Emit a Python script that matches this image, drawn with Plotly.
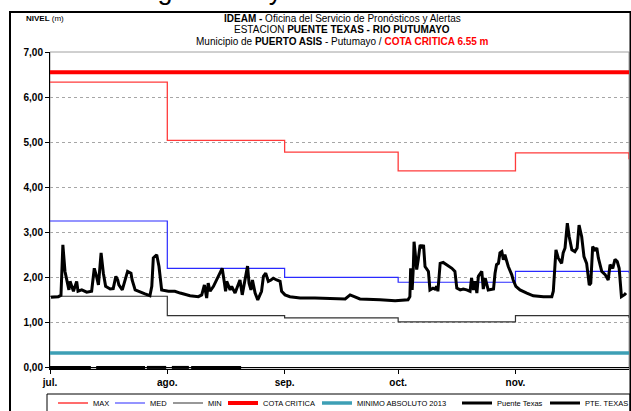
import pandas as pd
import plotly.graph_objects as go

# --- data -------------------------------------------------------------
YEAR_START = "2014-07-01"
MONTH_STARTS = ["2014-07-01", "2014-08-01", "2014-09-01", "2014-10-01", "2014-11-01", "2014-12-01"]
MONTH_LABELS = ["jul.", "ago.", "sep.", "oct.", "nov."]

# monthly reference levels (m), one value per month start (last = closing value)
MAX_LEVEL = [6.33, 5.04, 4.78, 4.36, 4.76, 4.62]
MED_LEVEL = [3.25, 2.20, 2.00, 1.89, 2.13, 2.10]
MIN_LEVEL = [1.58, 1.15, 1.10, 1.01, 1.15, 1.10]

COTA_CRITICA = 6.55
MINIMO_2013 = 0.32

# observed level at Puente Texas: days since 1 July and level (m)
PTE_DAYS = [0.26, 2.2, 2.9, 3.4, 3.96, 5.0, 5.3, 6.2, 7.05, 7.4, 8.4, 9.7, 11.0, 11.7, 12.3, 12.8,
            13.5, 14.1, 14.7, 15.9, 16.7, 17.4, 17.9, 18.2, 19.1, 20.5, 21.4, 21.7, 22.5, 23.8,
            25.1, 26.4, 26.9, 27.3, 28.2, 28.8, 29.5, 31.3, 33.0, 34.4, 37.0, 39.2, 40.1, 40.8,
            41.4, 41.8, 42.3, 43.2, 43.6, 45.5, 46.1, 46.4, 46.7, 47.6, 48.0, 48.9, 50.2, 50.8,
            52.2, 52.6, 53.1, 53.5, 54.2, 54.9, 55.9, 56.4, 57.0, 57.7, 58.4, 59.0, 59.9, 60.8,
            61.2, 62.1, 63.4, 66.1, 70.0, 78.0, 79.3, 81.9, 87.2, 91.2, 94.6, 95.1, 95.3, 95.7,
            96.0, 96.2, 96.5, 96.9, 97.3, 97.8, 98.3, 98.7, 99.1, 100.0, 100.4, 101.2, 101.7,
            102.2, 102.5, 103.1, 103.9, 104.8, 105.7, 106.2, 107.0, 107.5, 108.4, 109.2, 110.1,
            111.0, 111.4, 111.9, 112.3, 112.8, 113.2, 114.1, 114.5, 115.0, 115.8, 117.2, 117.6,
            118.0, 118.5, 118.9, 119.4, 119.8, 120.2, 121.1, 122.0, 122.4, 123.1, 124.2, 126.0,
            127.7, 130.4, 132.6, 133.0, 133.7, 134.3, 135.2, 135.6, 136.1, 136.7, 137.2, 137.9,
            138.7, 139.3, 139.8, 140.5, 141.1, 141.8, 142.5, 142.9, 143.4, 144.0, 144.5, 144.9,
            145.8, 146.7, 147.5, 148.0, 148.7, 149.3, 149.9, 150.4, 150.8, 151.0, 151.9, 152.2]
PTE_LEVEL = [1.56, 1.57, 1.60, 2.72, 2.13, 1.72, 1.91, 1.69, 1.91, 1.69, 1.72, 1.67, 1.69, 2.20, 2.02, 1.83,
             2.54, 2.09, 1.80, 1.74, 1.75, 2.02, 1.94, 1.83, 1.72, 2.13, 2.09, 1.94, 1.72, 1.67,
             1.63, 1.59, 1.80, 2.43, 2.50, 2.24, 1.72, 1.69, 1.69, 1.65, 1.59, 1.57, 1.61, 1.83,
             1.54, 1.87, 1.69, 1.80, 1.87, 2.20, 1.87, 1.69, 1.91, 1.72, 1.80, 1.65, 1.94, 1.61,
             2.25, 1.87, 1.72, 1.94, 1.65, 1.50, 1.69, 2.02, 2.09, 1.91, 1.94, 1.98, 1.94, 1.91,
             1.69, 1.61, 1.57, 1.54, 1.54, 1.52, 1.61, 1.52, 1.50, 1.48, 1.50, 1.57, 2.20, 1.72,
             2.20, 2.79, 2.54, 2.17, 2.39, 2.72, 2.65, 2.72, 2.24, 2.13, 1.72, 1.76, 1.74,
             1.80, 1.69, 2.31, 2.33, 2.28, 2.24, 2.20, 2.13, 1.76, 1.72, 1.74, 1.72,
             1.69, 1.98, 1.72, 1.91, 1.65, 2.02, 2.13, 1.74, 1.98, 1.72, 1.74, 2.09,
             2.28, 2.31, 2.54, 2.57, 2.39, 2.50, 2.24, 2.06, 1.94, 1.80, 1.72, 1.65,
             1.59, 1.57, 1.57, 1.69, 2.61, 2.43, 2.31, 2.54, 2.65, 3.20, 2.90, 2.61,
             2.57, 2.65, 3.16, 2.90, 2.46, 2.31, 1.83, 1.87, 2.68, 2.61, 2.65, 2.43,
             2.13, 2.06, 1.94, 2.28, 2.20, 2.40, 2.35, 2.20, 1.87, 1.57, 1.62, 1.65]

# second gauge record: zero readings (None = no reading)
PT2_DAYS = [0.0, 10.8, 11.5, 12.2, 25.1, 25.4, 25.6, 30.7, 31.5, 32.2, 36.7, 37.0, 37.3, 50.5]
PT2_LEVEL = [0, 0, None, 0, 0, None, 0, 0, None, 0, 0, None, 0, 0]

# --- figure -----------------------------------------------------------
start = pd.Timestamp(YEAR_START)
pte_x = start + pd.to_timedelta(PTE_DAYS, unit="D")
pt2_x = start + pd.to_timedelta(PT2_DAYS, unit="D")
x_span = [MONTH_STARTS[0], MONTH_STARTS[-1]]

SANS = "Liberation Sans, Arial, sans-serif"


def px_x(px):
    """Convert a pixel column of the page to paper units of the plot area."""
    return (px - 50) / 579


def px_y(py):
    """Convert a pixel row of the page to paper units of the plot area."""
    return (369 - py) / 317


fig = go.Figure()

# each series gets its own one-entry legend so the row can be laid out tightly
fig.add_trace(go.Scatter(x=x_span, y=[COTA_CRITICA] * 2, mode="lines", name="COTA CRITICA",
                         line=dict(color="#ff0000", width=4), legend="legend4"))
fig.add_trace(go.Scatter(x=x_span, y=[MINIMO_2013] * 2, mode="lines", name="MINIMO ABSOLUTO 2013",
                         line=dict(color="#3d9fb5", width=3.5), legend="legend5"))
fig.add_trace(go.Scatter(x=MONTH_STARTS, y=MAX_LEVEL, mode="lines", name="MAX",
                         line=dict(color="#ff3b3b", width=1.3, shape="hv"), legend="legend"))
fig.add_trace(go.Scatter(x=MONTH_STARTS, y=MED_LEVEL, mode="lines", name="MED",
                         line=dict(color="#2a2aff", width=1.2, shape="hv"), legend="legend2"))
fig.add_trace(go.Scatter(x=MONTH_STARTS, y=MIN_LEVEL, mode="lines", name="MIN",
                         line=dict(color="#333333", width=1.2, shape="hv"), legend="legend3"))
fig.add_trace(go.Scatter(x=pt2_x, y=PT2_LEVEL, mode="lines", name="Puente Texas",
                         line=dict(color="#000000", width=3), connectgaps=False, legend="legend6"))
fig.add_trace(go.Scatter(x=pte_x, y=PTE_LEVEL, mode="lines", name="PTE. TEXAS",
                         line=dict(color="#000000", width=3), legend="legend7"))

legend_font = dict(family=SANS, size=7.5, color="#000000")
legend_left = [53, 110, 168, 223, 317, 457, 545]
legend_keys = ["legend", "legend2", "legend3", "legend4", "legend5", "legend6", "legend7"]
legends = {
    key: dict(orientation="h", x=px_x(left), xanchor="left", y=px_y(403), yanchor="middle",
              font=legend_font, bgcolor="rgba(0,0,0,0)", itemwidth=30)
    for key, left in zip(legend_keys, legend_left)
}

fig.update_layout(
    width=631, height=411,
    margin=dict(l=50, r=2, t=52, b=42, autoexpand=False),
    paper_bgcolor="white", plot_bgcolor="white",
    separators=",.",
    showlegend=True,
    **legends,
    xaxis=dict(type="date", range=x_span, tickvals=MONTH_STARTS[:-1], ticktext=MONTH_LABELS,
               showgrid=False, zeroline=False, showline=True, linecolor="#000000", linewidth=1,
               ticks="outside", ticklen=4, tickcolor="#000000", automargin=False,
               tickfont=dict(family=SANS, size=10, color="#000000", weight="bold")),
    yaxis=dict(range=[-0.035, 7], tickvals=[0, 1, 2, 3, 4, 5, 6, 7], tickformat=".2f",
               showgrid=True, gridcolor="#a6a6a6", griddash="dot", gridwidth=1,
               zeroline=True, zerolinecolor="#000000", zerolinewidth=1,
               showline=True, linecolor="#000000", linewidth=1,
               ticks="outside", ticklen=4, tickcolor="#000000", automargin=False,
               tickfont=dict(family=SANS, size=10, color="#000000", weight="bold")),
    font=dict(family=SANS, color="#000000"),
)

# plot-area frame, legend box and outer chart border
fig.add_shape(type="rect", xref="paper", yref="paper", x0=0, x1=1, y0=0, y1=1,
              line=dict(color="#a0a0a0", width=1), layer="below")
fig.add_shape(type="rect", xref="paper", yref="paper", x0=px_x(47), x1=px_x(630), y0=px_y(394),
              y1=px_y(430), line=dict(color="#000000", width=1))
fig.add_shape(type="rect", xref="paper", yref="paper", x0=px_x(10), x1=px_x(630.5), y0=px_y(12),
              y1=px_y(460), line=dict(color="#000000", width=2))

# running text of the page above the chart, mostly cut off by the top edge
fig.add_annotation(xref="paper", yref="paper", x=px_x(1), y=px_y(7), xanchor="left", yanchor="bottom",
                   text="de Puerto Leguízamo y Puerto Asís.", showarrow=False,
                   font=dict(family=SANS, size=27, color="#000000"))

# chart heading, one annotation per line
TITLE_LINES = [
    "<b>IDEAM - </b>Oficina del Servicio de Pronósticos y Alertas",
    "ESTACION <b>PUENTE TEXAS - RIO PUTUMAYO</b>",
    "Municipio de <b>PUERTO ASIS</b> - Putumayo / "
    "<span style='color:#ff0000'><b>COTA CRITICA 6.55 m</b></span>",
]
for row, line in zip([19, 30, 41], TITLE_LINES):
    fig.add_annotation(xref="paper", yref="paper", x=0.505, y=px_y(row), xanchor="center",
                       yanchor="middle", text=line, showarrow=False,
                       font=dict(family=SANS, size=10, color="#000000"))

fig.add_annotation(xref="paper", yref="paper", x=px_x(24), y=px_y(19), xanchor="left", yanchor="middle",
                   text="<b>NIVEL</b> (m)", showarrow=False,
                   font=dict(family=SANS, size=8, color="#000000"))

fig.write_html("out.html")
